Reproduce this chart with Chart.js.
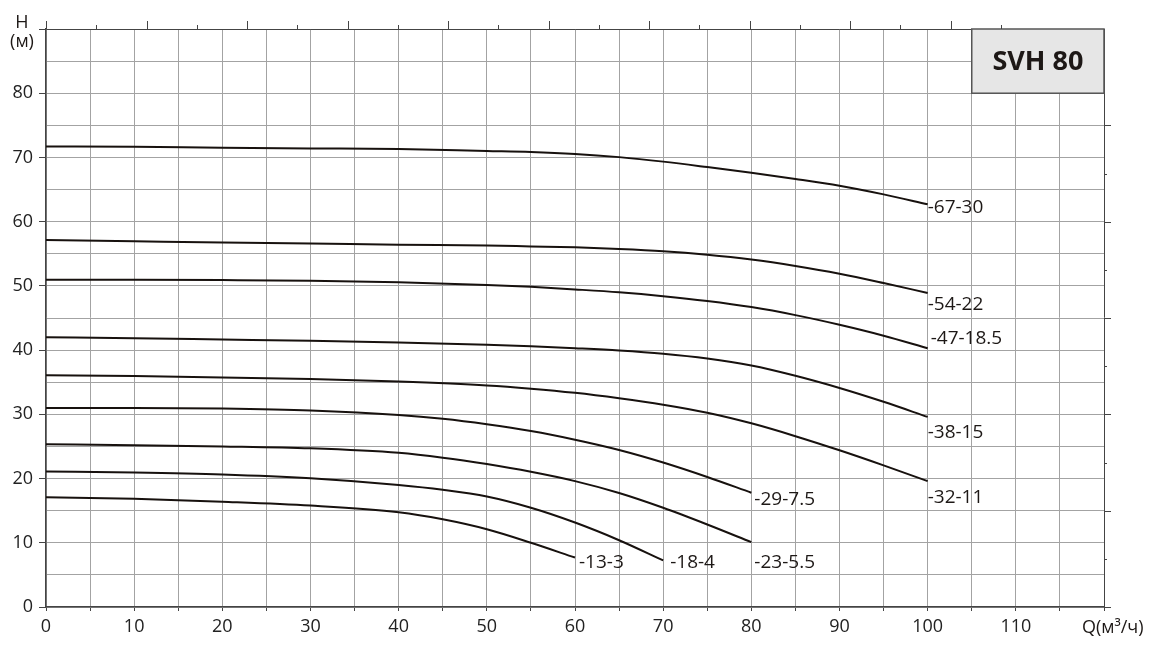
<!DOCTYPE html>
<html><head><meta charset="utf-8">
<script src="https://cdn.jsdelivr.net/npm/chart.js@4.4.1/dist/chart.umd.min.js"></script>
<style>html,body{margin:0;padding:0;background:#fff;}#wrap{position:relative;width:1151px;height:657px;}</style>
</head><body><div id="wrap"><canvas id="c"></canvas></div>
<script>
// ---- data ----
const flowQ100 = [0,10,20,30,40,50,55,60,65,70,75,80,85,90,95,100];
const flowQ80  = [0,10,20,30,40,45,50,55,60,65,70,75,80];
const flowQ70  = [0,10,20,30,40,45,50,55,60,65,70];
const flowQ60  = [0,10,20,30,40,45,50,55,60];

const head_67_30  = [71.7,71.65,71.5,71.4,71.3,71.0,70.85,70.55,70.05,69.35,68.5,67.6,66.65,65.6,64.25,62.7];
const head_54_22  = [57.15,56.95,56.75,56.6,56.4,56.3,56.15,56.0,55.75,55.4,54.85,54.1,53.1,51.9,50.45,48.9];
const head_47_185 = [50.95,50.95,50.9,50.8,50.55,50.15,49.85,49.45,49.0,48.4,47.65,46.7,45.45,43.95,42.25,40.3];
const head_38_15  = [42.0,41.85,41.65,41.45,41.2,40.85,40.6,40.3,39.95,39.45,38.7,37.6,36.0,34.1,31.95,29.6];
const head_32_11  = [36.1,35.95,35.75,35.5,35.1,34.5,34.0,33.35,32.5,31.5,30.25,28.6,26.6,24.4,22.05,19.6];
const head_29_75  = [31.0,31.0,30.9,30.6,29.9,29.3,28.45,27.4,26.05,24.45,22.5,20.25,17.8];
const head_23_55  = [25.35,25.2,25.0,24.7,24.0,23.25,22.25,21.05,19.6,17.75,15.45,12.85,10.1];
const head_18_4   = [21.1,20.95,20.65,20.05,19.0,18.25,17.2,15.45,13.15,10.4,7.25];
const head_13_3   = [17.1,16.85,16.4,15.8,14.75,13.65,12.1,10.0,7.7];

const seriesNames = ['-67-30','-54-22','-47-18.5','-38-15','-32-11','-29-7.5','-23-5.5','-18-4','-13-3'];
const seriesQ = [flowQ100,flowQ100,flowQ100,flowQ100,flowQ100,flowQ80,flowQ80,flowQ70,flowQ60];
const seriesH = [head_67_30,head_54_22,head_47_185,head_38_15,head_32_11,head_29_75,head_23_55,head_18_4,head_13_3];

const xTickLabels = ['0','10','20','30','40','50','60','70','80','90','100','110'];
const yTickLabels = ['0','10','20','30','40','50','60','70','80'];
const xAxisTitle = 'Q(м³/ч)';
const yAxisTitle = ['H','(м)'];
const modelTitle = 'SVH 80';

// ---- styling / placement (not data) ----
const labelOffsets = [[0,3],[0,12],[3,-10],[0,16],[0,16],[3,7],[3,20],[7,2],[4,5]];
const FONT = '"Open Sans", "Liberation Sans", sans-serif';
const GRID = '#a3a3a3';
const AXIS = '#444';
const secondaryQStep = 5.7;   // top scale tick spacing in Q units
const secondaryHStep = 7.5;   // right scale tick spacing in H units

const datasets = seriesNames.map((n,i)=>({
  label:n,
  data: seriesQ[i].map((q,j)=>({x:q,y:seriesH[i][j]})),
  borderColor:'#17110e', borderWidth:2, pointRadius:0, fill:false,
  cubicInterpolationMode:'monotone'
}));

const decor = {
  id:'decor',
  beforeDatasetsDraw(chart){
    const {ctx, scales:{x,y}} = chart;
    const x1=x.getPixelForValue(105), x2=x.getPixelForValue(120);
    const y1=y.getPixelForValue(90), y2=y.getPixelForValue(80);
    ctx.save();
    ctx.fillStyle='#e6e6e6';
    ctx.fillRect(x1,y1,x2-x1,y2-y1);
    ctx.strokeStyle='#555'; ctx.lineWidth=1.5;
    ctx.strokeRect(x1,y1,x2-x1,y2-y1);
    ctx.fillStyle='#1d1816';
    ctx.font='bold 27px '+FONT;
    ctx.textAlign='center'; ctx.textBaseline='middle';
    ctx.fillText(modelTitle,(x1+x2)/2,(y1+y2)/2+1);
    ctx.restore();
  },
  afterDraw(chart){
    const {ctx, chartArea:ca, scales:{x,y}} = chart;
    ctx.save();
    ctx.strokeStyle=AXIS; ctx.lineWidth=1;
    for(let k=0;k<20;k++){
      const px=Math.round(x.getPixelForValue(k*secondaryQStep))+0.5;
      ctx.beginPath(); ctx.moveTo(px,ca.top); ctx.lineTo(px,ca.top-(k%2===0?8:4)); ctx.stroke();
    }
    for(let k=0;k<=10;k++){
      const py=Math.round(y.getPixelForValue(k*secondaryHStep))+0.5;
      ctx.beginPath(); ctx.moveTo(ca.right,py); ctx.lineTo(ca.right+(k%2===0?7:3),py); ctx.stroke();
    }
    ctx.fillStyle='#1d1816';
    ctx.font='19px '+FONT;
    ctx.textAlign='left'; ctx.textBaseline='middle';
    seriesNames.forEach((n,i)=>{
      const pts=chart.getDatasetMeta(i).data;
      const p=pts[pts.length-1];
      ctx.fillText(n,p.x+labelOffsets[i][0],p.y+labelOffsets[i][1]);
    });
    ctx.font='18px '+FONT;
    ctx.textAlign='center';
    ctx.fillText(yAxisTitle[0],22,23);
    ctx.fillText(yAxisTitle[1],22,42);
    ctx.textAlign='left'; ctx.textBaseline='alphabetic';
    ctx.fillText(xAxisTitle,1082,633);
    ctx.restore();
  }
};

new Chart(document.getElementById('c'),{
  type:'line',
  data:{datasets},
  options:{
    responsive:true, maintainAspectRatio:false, animation:false,
    layout:{padding:{top:29,right:47,left:0,bottom:0}},
    plugins:{legend:{display:false},tooltip:{enabled:false}},
    scales:{
      x:{type:'linear',position:'bottom',min:0,max:120,
        afterFit(s){s.height=50;},
        ticks:{stepSize:5,autoSkip:false,maxRotation:0,padding:5,color:'#222',font:{family:FONT,size:18},
          callback:v=>{const i=xTickLabels.indexOf(String(v));return i>=0?xTickLabels[i]:'';}},
        grid:{color:c=>(c.tick&&c.tick.value===120)?AXIS:GRID,lineWidth:1,tickLength:4,tickColor:AXIS},
        border:{display:true,color:AXIS,width:1.5}
      },
      y:{type:'linear',min:0,max:90,
        afterFit(s){s.width=46;},
        ticks:{stepSize:5,autoSkip:false,padding:6,color:'#222',font:{family:FONT,size:18},
          callback:v=>{const i=yTickLabels.indexOf(String(v));return i>=0?yTickLabels[i]:'';}},
        grid:{color:c=>(c.tick&&c.tick.value===90)?AXIS:GRID,lineWidth:1,tickLength:7,
          tickColor:c=>(c.tick&&c.tick.value%10===0)?AXIS:'rgba(0,0,0,0)'},
        border:{display:true,color:AXIS,width:1.5}
      }
    }
  },
  plugins:[decor]
});
</script></body></html>
